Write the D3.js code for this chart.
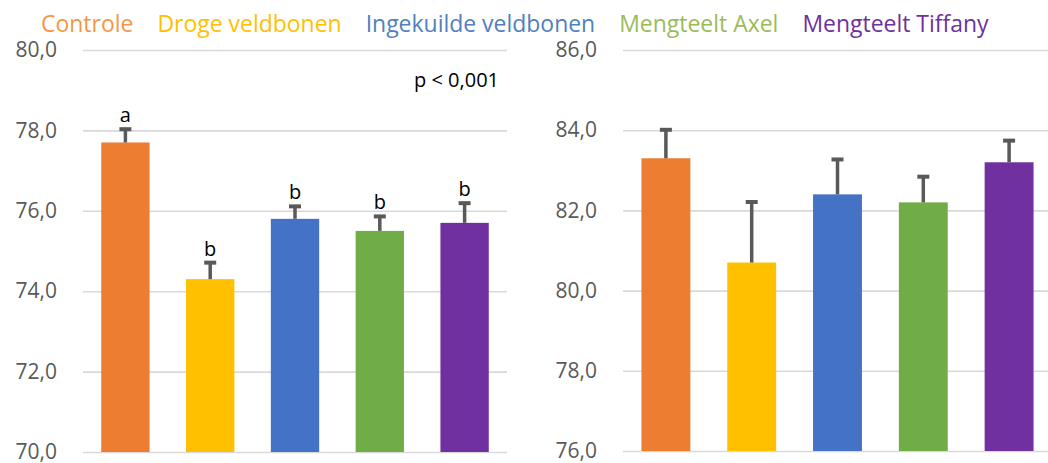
<!DOCTYPE html>
<html>
<head>
<meta charset="utf-8">
<script src="https://cdn.jsdelivr.net/npm/d3@7"></script>
<style>
  html, body { margin: 0; padding: 0; background: #fff; }
  svg { display: block; font-family: "Open Sans", "Noto Sans", sans-serif; }
</style>
</head>
<body>
<svg id="chart" width="1048" height="463"></svg>
<script>
// Treatments (shared by both panels)
const categories = ["Controle", "Droge veldbonen", "Ingekuilde veldbonen", "Mengteelt Axel", "Mengteelt Tiffany"];

// Left panel: means, standard errors and significance letters
const leftValues  = [77.7, 74.3, 75.8, 75.5, 75.7];
const leftErrors  = [0.33, 0.41, 0.31, 0.36, 0.49];
const leftLetters = ["a", "b", "b", "b", "b"];
const leftTicks   = [70, 72, 74, 76, 78, 80];
const leftNote    = "p < 0,001";

// Right panel: means and standard errors
const rightValues = [83.3, 80.7, 82.4, 82.2, 83.2];
const rightErrors = [0.71, 1.51, 0.87, 0.64, 0.54];
const rightTicks  = [76, 78, 80, 82, 84, 86];

// Colours
const barColors    = ["#ED7D31", "#FFC000", "#4472C4", "#70AD47", "#7030A0"];
const legendColors = ["#F79646", "#FFC000", "#4F81BD", "#9BBB59", "#7030A0"];

const svg = d3.select("#chart");
const nl = d3.formatLocale({ decimal: ",", thousands: ".", grouping: [3], currency: ["€", ""] });
const fmt = nl.format(".1f");

function panel(opts) {
  const x = d3.scaleBand()
    .domain(categories)
    .range([opts.x0, opts.x1])
    .paddingInner(0.43)
    .paddingOuter(0.215);
  const y = d3.scaleLinear()
    .domain([opts.ticks[0], opts.ticks[opts.ticks.length - 1]])
    .range([opts.yBottom, opts.yTop]);

  const g = svg.append("g");

  // gridlines + tick labels
  const axis = g.append("g")
    .attr("transform", `translate(${opts.x0},0)`)
    .call(d3.axisLeft(y)
      .tickValues(opts.ticks)
      .tickFormat(fmt)
      .tickSize(-(opts.x1 - opts.x0))
      .tickPadding(26));
  axis.select(".domain").remove();
  axis.selectAll(".tick line").attr("stroke", "#D9D9D9").attr("stroke-width", 1.6);
  axis.selectAll(".tick text")
    .attr("fill", "#595959")
    .attr("font-size", 21)
    .attr("font-family", "'Open Sans', 'Noto Sans', sans-serif");

  const data = categories.map((c, i) => ({ c, v: opts.values[i], e: opts.errors[i], i }));

  // bars
  g.selectAll("rect.bar").data(data).join("rect")
    .attr("class", "bar")
    .attr("x", d => x(d.c))
    .attr("width", x.bandwidth())
    .attr("y", d => y(d.v))
    .attr("height", d => y(y.domain()[0]) - y(d.v))
    .attr("fill", d => barColors[d.i]);

  // error bars (upper half only)
  const eb = g.selectAll("g.err").data(data).join("g").attr("class", "err");
  eb.append("line")
    .attr("x1", d => x(d.c) + x.bandwidth() / 2)
    .attr("x2", d => x(d.c) + x.bandwidth() / 2)
    .attr("y1", d => y(d.v))
    .attr("y2", d => y(d.v + d.e))
    .attr("stroke", "#595959").attr("stroke-width", 3.5);
  eb.append("line")
    .attr("x1", d => x(d.c) + x.bandwidth() / 2 - 6)
    .attr("x2", d => x(d.c) + x.bandwidth() / 2 + 6)
    .attr("y1", d => y(d.v + d.e))
    .attr("y2", d => y(d.v + d.e))
    .attr("stroke", "#595959").attr("stroke-width", 4);

  // significance letters
  if (opts.letters) {
    g.selectAll("text.sig").data(data).join("text")
      .attr("class", "sig")
      .attr("x", d => x(d.c) + x.bandwidth() / 2)
      .attr("y", d => y(d.v + d.e) - 7)
      .attr("text-anchor", "middle")
      .attr("font-size", 20)
      .attr("fill", "#000")
      .text(d => opts.letters[d.i]);
  }
  return { x, y, g };
}

const left = panel({
  x0: 83, x1: 507, yTop: 50, yBottom: 452,
  ticks: leftTicks, values: leftValues, errors: leftErrors, letters: leftLetters
});
panel({
  x0: 623, x1: 1052, yTop: 50, yBottom: 451,
  ticks: rightTicks, values: rightValues, errors: rightErrors
});

// p-value note on the left panel
left.g.append("text")
  .attr("x", 499).attr("y", 87)
  .attr("text-anchor", "end")
  .attr("font-size", 20)
  .attr("fill", "#000")
  .text(leftNote);

// Legend: coloured names in one row across the top
const legend = svg.append("g");
const items = legend.selectAll("text").data(categories).join("text")
  .attr("y", 32)
  .attr("font-size", 23)
  .attr("fill", (d, i) => legendColors[i])
  .text(d => d);
const gap = 24, startX = 41, targetTotal = 852;
let total = 0;
items.each(function () { total += this.getComputedTextLength(); });
const fs = 23 * targetTotal / total;
items.attr("font-size", fs);
let cx = startX;
items.each(function () {
  d3.select(this).attr("x", cx);
  cx += this.getComputedTextLength() + gap;
});
</script>
</body>
</html>
